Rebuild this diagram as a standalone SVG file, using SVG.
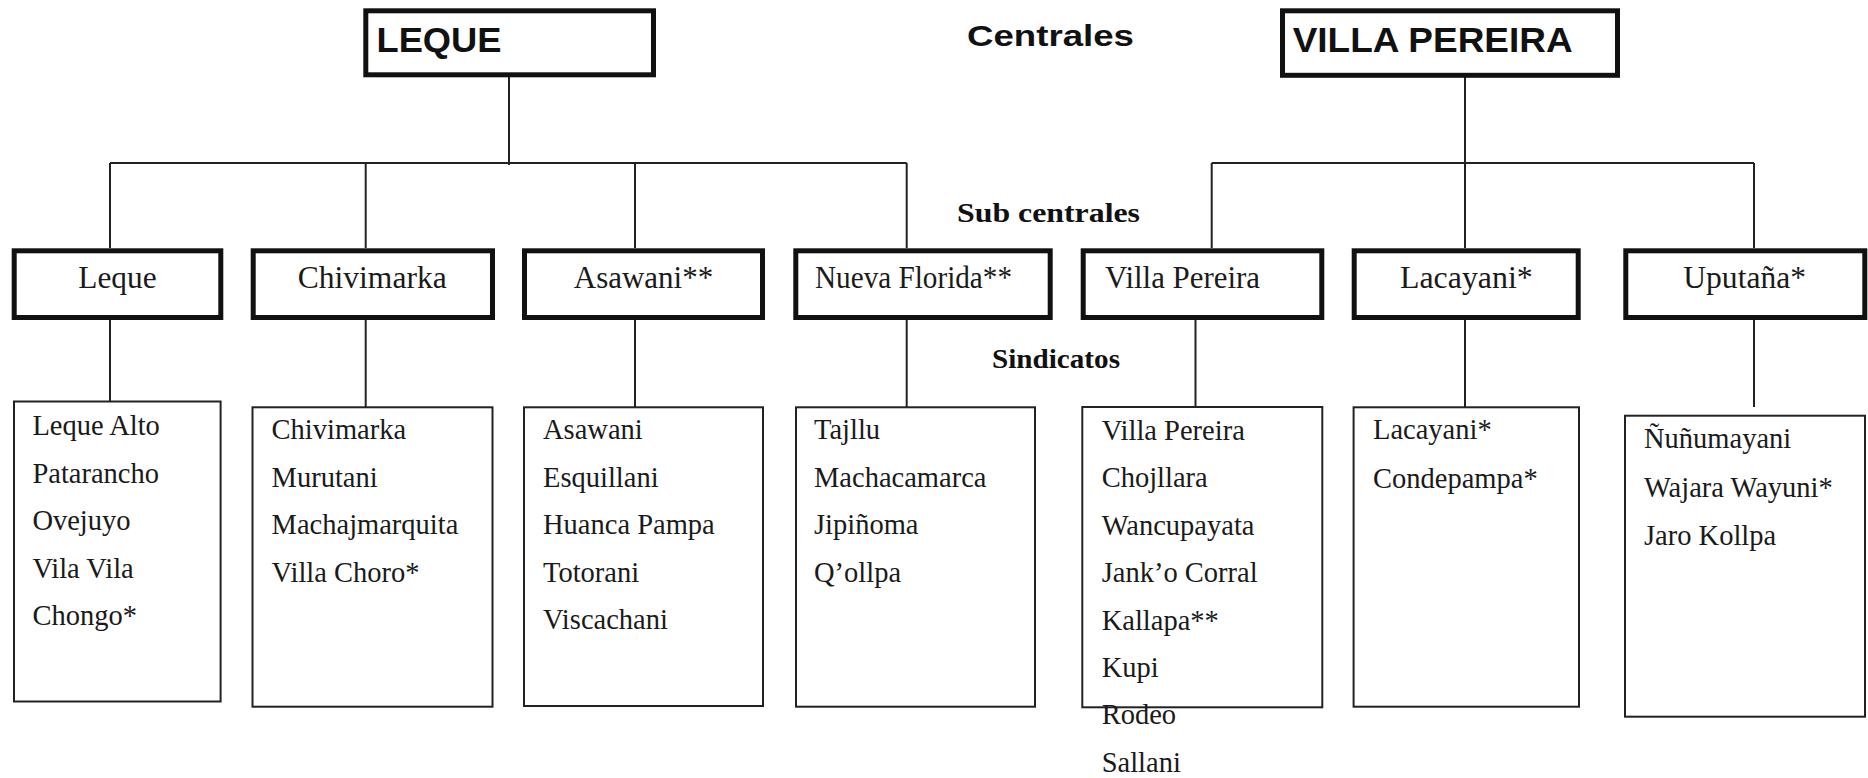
<svg xmlns="http://www.w3.org/2000/svg" width="1868" height="778" viewBox="0 0 1868 778">
  <style>
    .bg { fill: #ffffff; }
    .central { fill: #ffffff; stroke: #111111; stroke-width: 5; }
    .sub { fill: #ffffff; stroke: #111111; stroke-width: 5; }
    .sind { fill: #ffffff; stroke: #222222; stroke-width: 2; }
    .link { fill: none; stroke: #222222; stroke-width: 2; }
    .t-central { font-family: "Liberation Sans", Arial, sans-serif; font-weight: bold; font-size: 35px; fill: #111111; }
    .t-level { font-family: "Liberation Serif", "Times New Roman", serif; font-weight: bold; font-size: 28px; fill: #111111; }
    .t-level-sans { font-family: "Liberation Sans", Arial, sans-serif; font-weight: bold; font-size: 30px; fill: #111111; }
    .t-sub { font-family: "Liberation Serif", "Times New Roman", serif; font-size: 31px; fill: #1a1a1a; }
    .t-item { font-family: "Liberation Serif", "Times New Roman", serif; font-size: 28.5px; fill: #1a1a1a; }
  </style>

  <rect class="bg" x="0" y="0" width="1868" height="778"/>

  <!-- level headings -->
  <g id="level-labels">
    <text class="t-level-sans" x="967" y="45.5" textLength="167" lengthAdjust="spacingAndGlyphs">Centrales</text>
    <text class="t-level" x="957" y="221.5" textLength="183" lengthAdjust="spacingAndGlyphs">Sub centrales</text>
    <text class="t-level" x="992" y="368" textLength="128" lengthAdjust="spacingAndGlyphs">Sindicatos</text>
  </g>

  <!-- connectors -->
  <g id="connectors">
    <!-- LEQUE branch -->
    <path class="link" d="M509 77 V165 M110 163 H906.7 M110 163 V248 M365.7 163 V248 M635 163 V248 M906.7 163 V248"/>
    <!-- VILLA PEREIRA branch -->
    <path class="link" d="M1465 77 V163 M1211.7 163 H1754 M1211.7 163 V248 M1465 163 V248 M1754 163 V248"/>
    <!-- sub centrales to sindicatos -->
    <path class="link" d="M110 320 V407 M365.7 320 V407 M635 320 V407 M906.7 320 V407 M1195.5 320 V407 M1465 320 V407 M1754 320 V407"/>
  </g>

  <!-- centrales -->
  <g id="central-leque">
    <rect class="central" x="365.8" y="10.8" width="287.7" height="64"/>
    <text class="t-central" x="376.5" y="51.7" textLength="125" lengthAdjust="spacingAndGlyphs">LEQUE</text>
  </g>
  <g id="central-villa-pereira">
    <rect class="central" x="1282.5" y="10.8" width="335" height="64.5"/>
    <text class="t-central" x="1292.7" y="52.3" textLength="280" lengthAdjust="spacingAndGlyphs">VILLA PEREIRA</text>
  </g>

  <!-- sub centrales -->
  <g id="sub-leque">
    <rect class="sub" x="14.2" y="250.8" width="206.6" height="66.7"/>
    <text class="t-sub" x="78.3" y="288.3" textLength="78.3" lengthAdjust="spacingAndGlyphs">Leque</text>
  </g>
  <g id="sub-chivimarka">
    <rect class="sub" x="253.2" y="250.8" width="239.3" height="66.7"/>
    <text class="t-sub" x="297.7" y="288.3" textLength="149" lengthAdjust="spacingAndGlyphs">Chivimarka</text>
  </g>
  <g id="sub-asawani">
    <rect class="sub" x="524.5" y="250.8" width="238" height="66.7"/>
    <text class="t-sub" x="643.5" y="288.3" text-anchor="middle">Asawani**</text>
  </g>
  <g id="sub-nueva-florida">
    <rect class="sub" x="795.8" y="250.8" width="254.4" height="66.7"/>
    <text class="t-sub" x="815" y="288" textLength="197" lengthAdjust="spacingAndGlyphs">Nueva Florida**</text>
  </g>
  <g id="sub-villa-pereira">
    <rect class="sub" x="1083.2" y="250.8" width="238.6" height="66.7"/>
    <text class="t-sub" x="1105" y="288" textLength="155" lengthAdjust="spacingAndGlyphs">Villa Pereira</text>
  </g>
  <g id="sub-lacayani">
    <rect class="sub" x="1354.2" y="250.8" width="224" height="66.7"/>
    <text class="t-sub" x="1400" y="288.3" textLength="132.7" lengthAdjust="spacingAndGlyphs">Lacayani*</text>
  </g>
  <g id="sub-uputana">
    <rect class="sub" x="1625.8" y="250.8" width="239" height="66.7"/>
    <text class="t-sub" x="1683.3" y="288.3" textLength="122.7" lengthAdjust="spacingAndGlyphs">Uputaña*</text>
  </g>

  <!-- sindicatos -->
  <g id="sind-leque">
    <rect class="sind" x="14" y="401.5" width="206.6" height="300"/>
    <text class="t-item" x="32.4" y="435">Leque Alto</text>
    <text class="t-item" x="32.4" y="482.5">Patarancho</text>
    <text class="t-item" x="32.4" y="530">Ovejuyo</text>
    <text class="t-item" x="32.4" y="577.5">Vila Vila</text>
    <text class="t-item" x="32.4" y="625">Chongo*</text>
  </g>
  <g id="sind-chivimarka">
    <rect class="sind" x="252.5" y="407.3" width="240" height="299.4"/>
    <text class="t-item" x="271.6" y="439.3">Chivimarka</text>
    <text class="t-item" x="271.6" y="486.8">Murutani</text>
    <text class="t-item" x="271.6" y="534.3">Machajmarquita</text>
    <text class="t-item" x="271.6" y="581.8">Villa Choro*</text>
  </g>
  <g id="sind-asawani">
    <rect class="sind" x="524" y="407.3" width="239" height="298.7"/>
    <text class="t-item" x="543" y="439.3">Asawani</text>
    <text class="t-item" x="543" y="486.8">Esquillani</text>
    <text class="t-item" x="543" y="534.3">Huanca Pampa</text>
    <text class="t-item" x="543" y="581.8">Totorani</text>
    <text class="t-item" x="543" y="629.3">Viscachani</text>
  </g>
  <g id="sind-nueva-florida">
    <rect class="sind" x="796" y="407.3" width="239" height="299.4"/>
    <text class="t-item" x="814" y="439.3">Tajllu</text>
    <text class="t-item" x="814" y="486.8">Machacamarca</text>
    <text class="t-item" x="814" y="534.3">Jipiñoma</text>
    <text class="t-item" x="814" y="581.8">Q’ollpa</text>
  </g>
  <g id="sind-villa-pereira">
    <rect class="sind" x="1082.3" y="407" width="240" height="300.3"/>
    <text class="t-item" x="1101.7" y="440">Villa Pereira</text>
    <text class="t-item" x="1101.7" y="487.4">Chojllara</text>
    <text class="t-item" x="1101.7" y="534.8">Wancupayata</text>
    <text class="t-item" x="1101.7" y="582.2">Jank’o Corral</text>
    <text class="t-item" x="1101.7" y="629.6">Kallapa**</text>
    <text class="t-item" x="1101.7" y="677">Kupi</text>
    <text class="t-item" x="1101.7" y="724.4">Rodeo</text>
    <text class="t-item" x="1101.7" y="771.8">Sallani</text>
  </g>
  <g id="sind-lacayani">
    <rect class="sind" x="1353.6" y="407.3" width="225.4" height="299.4"/>
    <text class="t-item" x="1373" y="439.3">Lacayani*</text>
    <text class="t-item" x="1373" y="487.8">Condepampa*</text>
  </g>
  <g id="sind-uputana">
    <rect class="sind" x="1625" y="415.7" width="240" height="301"/>
    <text class="t-item" x="1644" y="448">Ñuñumayani</text>
    <text class="t-item" x="1644" y="496.5">Wajara Wayuni*</text>
    <text class="t-item" x="1644" y="545">Jaro Kollpa</text>
  </g>
</svg>
